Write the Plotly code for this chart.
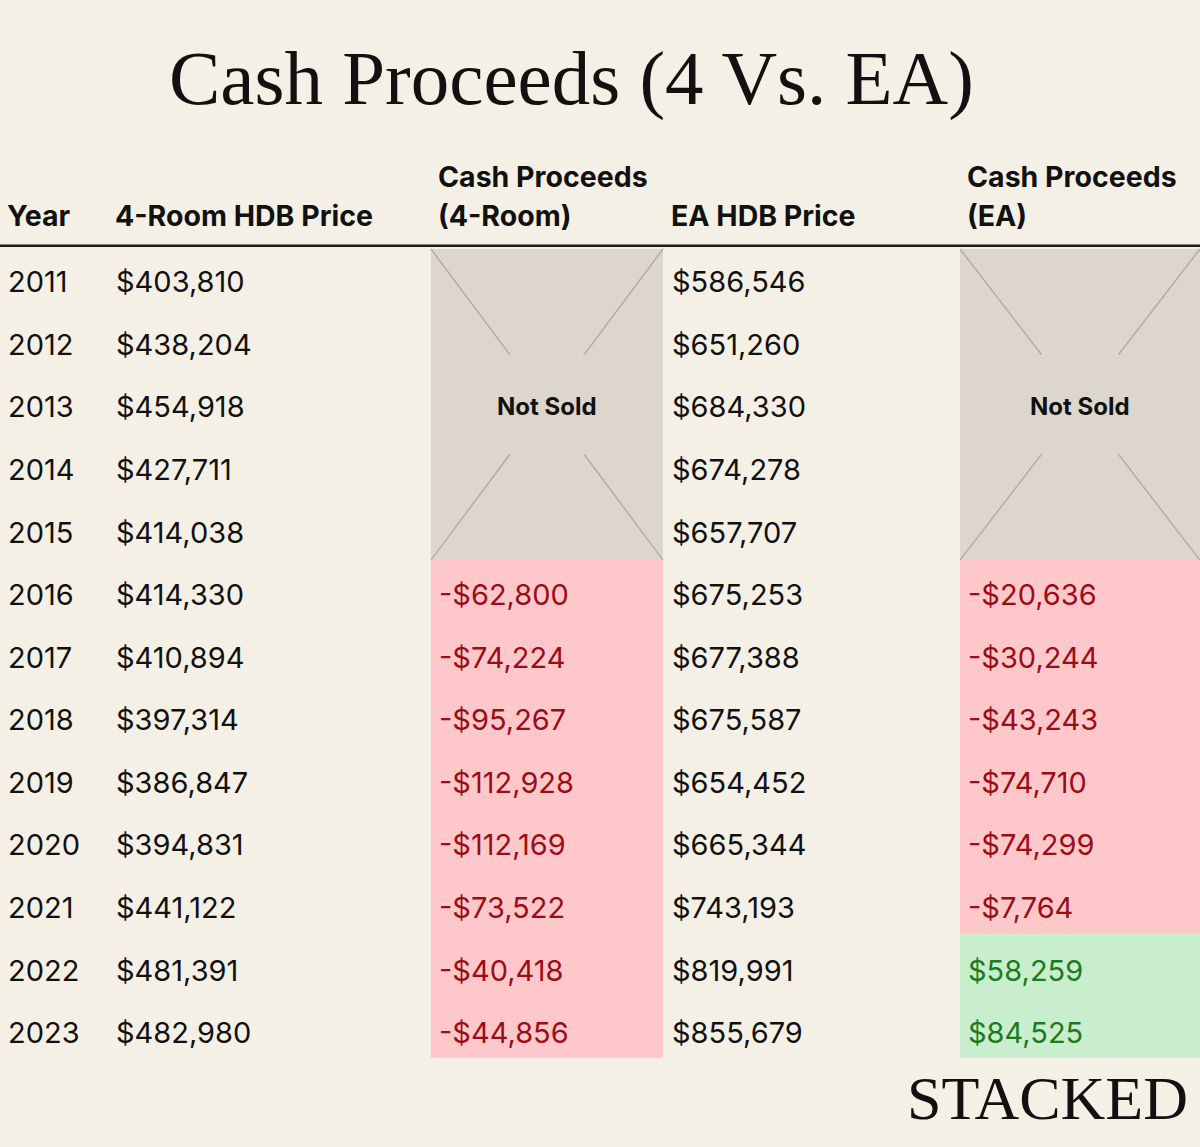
import plotly.graph_objects as go

years = [2011, 2012, 2013, 2014, 2015, 2016, 2017, 2018, 2019, 2020, 2021, 2022, 2023]
price_4room = [403810, 438204, 454918, 427711, 414038, 414330, 410894, 397314,
               386847, 394831, 441122, 481391, 482980]
cash_4room = [None, None, None, None, None, -62800, -74224, -95267, -112928,
              -112169, -73522, -40418, -44856]
price_ea = [586546, 651260, 684330, 674278, 657707, 675253, 677388, 675587,
            654452, 665344, 743193, 819991, 855679]
cash_ea = [None, None, None, None, None, -20636, -30244, -43243, -74710,
           -74299, -7764, 58259, 84525]

BG = "#f5f0e6"
GREY = "#ddd6cc"
PINK = "#fec8cb"
GREEN = "#c8eecd"
RED_TXT = "#9b0c16"
GREEN_TXT = "#1c7a1e"
INK = "#111111"
SANS = "Inter"
SERIF = "Liberation Serif"

# column layout (left edges of text, cell edges for coloured columns)
col_x = {"year": 8, "p4": 116, "c4": 439, "pea": 672, "cea": 968}
cell_edges = [431, 663, 960, 1200]


def money(v):
    if v is None:
        return ""
    return ("-$" if v < 0 else "$") + f"{abs(v):,}"


def cell_code(v):
    if v is None:
        return 0
    return 1 if v < 0 else 2


rows = list(range(len(years)))
# text baselines sit a little lower than the cell centres in the original
text_rows = [r * 1.0055 + 0.08 for r in rows]
z = [[cell_code(a), None, cell_code(b)] for a, b in zip(cash_4room, cash_ea)]

fig = go.Figure()
fig.add_trace(go.Heatmap(
    z=z, x=cell_edges, y=[r - 0.5 for r in rows] + [rows[-1] + 0.5],
    zmin=0, zmax=2, showscale=False, hoverinfo="skip",
    colorscale=[[0, GREY], [0.33, GREY], [0.34, PINK], [0.66, PINK],
                [0.67, GREEN], [1, GREEN]],
))

# "Not Sold" cross lines
not_sold = [i for i, v in enumerate(cash_4room) if v is None]
top, bot = not_sold[0] - 0.5, not_sold[-1] + 0.5
cy = (top + bot) / 2
for x0, x1 in [(cell_edges[0], cell_edges[1]), (cell_edges[2], cell_edges[3])]:
    cx = (x0 + x1) / 2
    for px in (x0, x1):
        for py in (top, bot):
            f = 0.68
            fig.add_trace(go.Scatter(
                x=[px, px + (cx - px) * f], y=[py, py + (cy - py) * f],
                mode="lines", line=dict(color="#b5aca2", width=1.5),
                hoverinfo="skip", showlegend=False))
    fig.add_annotation(x=cx, y=cy + 0.03, text="<b>Not Sold</b>", showarrow=False,
                       xanchor="center", yanchor="middle",
                       font=dict(family=SANS, size=24, color=INK))


def text_col(x, texts, colors):
    fig.add_trace(go.Scatter(
        x=[x] * len(texts), y=text_rows, text=texts, mode="text",
        textposition="middle right", hoverinfo="skip", showlegend=False,
        textfont=dict(family=SANS, size=29, color=colors)))


def txt_color(v):
    if v is None:
        return INK
    return RED_TXT if v < 0 else GREEN_TXT


text_col(col_x["year"], [str(y) for y in years], [INK] * len(years))
text_col(col_x["p4"], [money(v) for v in price_4room], [INK] * len(years))
text_col(col_x["c4"], [money(v) for v in cash_4room], [txt_color(v) for v in cash_4room])
text_col(col_x["pea"], [money(v) for v in price_ea], [INK] * len(years))
text_col(col_x["cea"], [money(v) for v in cash_ea], [txt_color(v) for v in cash_ea])

# header
headers = [
    ("year", [None, "Year"]),
    ("p4", [None, "4-Room HDB Price"]),
    ("c4", ["Cash Proceeds", "(4-Room)"]),
    ("pea", [None, "EA HDB Price"]),
    ("cea", ["Cash Proceeds", "(EA)"]),
]
for key, lines in headers:
    for yy, t in zip([-1.67, -1.03], lines):
        if t:
            fig.add_annotation(x=col_x[key] - 3, y=yy, text=f"<b>{t}</b>",
                               xanchor="left", yanchor="middle", showarrow=False,
                               font=dict(family=SANS, size=28.5, color=INK))

fig.add_shape(type="line", x0=0, x1=1200, y0=-0.55, y1=-0.55,
              line=dict(color="#1a1a1a", width=2.5))

fig.add_annotation(xref="paper", yref="paper", x=0.476, y=1 - 78 / 1147,
                   xanchor="center", yanchor="middle",
                   text="Cash Proceeds (4 Vs. EA)", showarrow=False,
                   font=dict(family=SERIF, size=77, color=INK))
fig.add_annotation(xref="paper", yref="paper", x=1190 / 1200, y=1 - 1098 / 1147,
                   xanchor="right", yanchor="middle", text="STACKED", showarrow=False,
                   font=dict(family=SERIF, size=62, color=INK))

fig.update_layout(
    width=1200, height=1147, margin=dict(l=0, r=0, t=0, b=0),
    paper_bgcolor=BG, plot_bgcolor=BG, showlegend=False,
    xaxis=dict(range=[0, 1200], visible=False, fixedrange=True),
    yaxis=dict(range=[13.93, -4.5], visible=False, fixedrange=True),
)

fig.write_html(
    "out.html",
    config={"displayModeBar": False},
    post_script="document.body.style.margin='0';document.body.style.background='#f5f0e6';",
)
